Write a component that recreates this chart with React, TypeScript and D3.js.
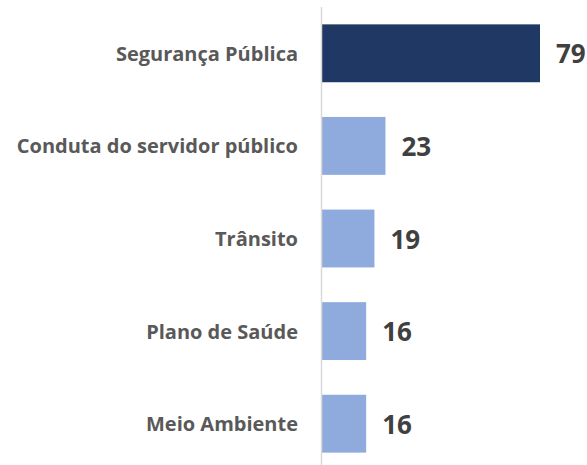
import React from "react";
import * as d3 from "d3";

const categories = [
  "Segurança Pública",
  "Conduta do servidor público",
  "Trânsito",
  "Plano de Saúde",
  "Meio Ambiente",
];
const values = [79, 23, 19, 16, 16];
const barColors = ["#203864", "#8faadc", "#8faadc", "#8faadc", "#8faadc"];

const W = 587;
const H = 465;

export default function App() {
  const x = d3.scaleLinear().domain([0, 79]).range([322, 540]);
  const y = d3
    .scaleBand<string>()
    .domain(categories)
    .range([7, 470])
    .paddingInner(0.375)
    .paddingOuter(0.1875);

  return (
    <div style={{ position: "fixed", left: 0, top: 0 }}>
      <svg width={W} height={H} style={{ display: "block", background: "#fff" }}>
        {categories.map((c, i) => (
          <rect
            key={c}
            x={x(0)}
            y={y(c)}
            width={x(values[i]) - x(0)}
            height={y.bandwidth()}
            fill={barColors[i]}
          />
        ))}
        <line x1={x(0) - 0.5} x2={x(0) - 0.5} y1={7} y2={465} stroke="#d9d9d9" strokeWidth={1.5} />
        {categories.map((c) => (
          <text
            key={"l" + c}
            x={298}
            y={(y(c) as number) + y.bandwidth() / 2}
            textAnchor="end"
            dominantBaseline="central"
            fontFamily="'Open Sans', sans-serif"
            fontWeight="bold"
            fontSize={20}
            fill="#595959"
          >
            {c}
          </text>
        ))}
        {categories.map((c, i) => (
          <text
            key={"v" + c}
            x={x(values[i]) + 16}
            y={(y(c) as number) + y.bandwidth() / 2}
            textAnchor="start"
            dominantBaseline="central"
            fontFamily="'Open Sans', sans-serif"
            fontWeight="bold"
            fontSize={26}
            fill="#404040"
          >
            {values[i]}
          </text>
        ))}
      </svg>
    </div>
  );
}
